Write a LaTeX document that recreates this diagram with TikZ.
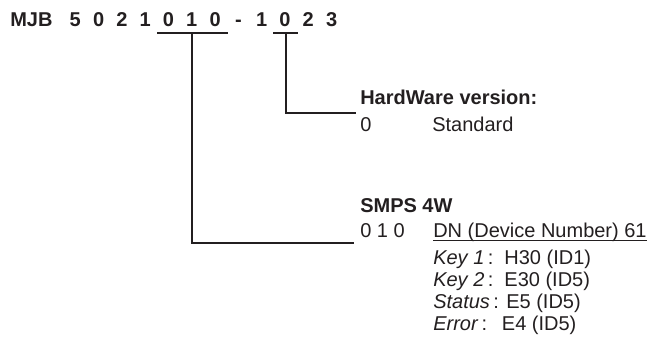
\documentclass[tikz,border=0pt]{standalone}
\usepackage{fontspec}
\setmainfont{Liberation Sans}
\definecolor{ink}{HTML}{231F20}
\begin{document}
\begin{tikzpicture}[x=0.75pt,y=-0.75pt,
  txt/.style={anchor=base west,inner sep=0pt,text=ink,font=\fontsize{15}{18}\selectfont},
  btxt/.style={txt,font=\fontsize{15}{18}\selectfont\bfseries},
  ch/.style={anchor=base,inner sep=0pt,text=ink,font=\fontsize{15}{18}\selectfont\bfseries},
  conn/.style={line width=1.5pt,draw=ink},
  uline/.style={line width=0.8pt,draw=ink}]
\useasboundingbox (0,0) rectangle (659,345);
% title
\node[btxt] (mjb) at (10,27) {MJB};
\foreach \c [count=\i from 0] in {5,0,2,1,0,1,0,-,1,0,2,3} {
  \node[ch] (d\i) at (75.3+23.3*\i,27) {\c};
}
% connector points
\coordinate (u1a) at (157,33);
\coordinate (u1b) at (228,33);
\coordinate (u1m) at (192,33);
\coordinate (c1)  at (192,243);
\coordinate (e1)  at (354,243);
\coordinate (u2a) at (273,33);
\coordinate (u2b) at (298,33);
\coordinate (u2m) at (286,33);
\coordinate (c2)  at (286,113);
\coordinate (e2)  at (356,113);
% hardware version block
\node[btxt] (hw) at (360,105) {HardWare version:};
\node[txt] (hw0) at (360,132) {0};
\node[txt] (std) at (432,132) {Standard};
% SMPS block
\node[btxt] (smps) at (360,212) {SMPS 4W};
\node[txt] (n010) at (360,237) {0 1 0};
\node[txt] (dn) at (433,237) {DN (Device Number) 61};
\draw[uline] ([yshift=-2.4pt]dn.base west) -- ([yshift=-2.4pt]dn.base east);
\node[txt] (k1) at (433,264) {\textit{Key 1}\,:\ \ H30 (ID1)};
\node[txt] (k2) at (433,286) {\textit{Key 2}\,:\ \ E30 (ID5)};
\node[txt] (st) at (433,308) {\textit{Status}\,: E5 (ID5)};
\node[txt] (er) at (433,330) {\textit{Error}\,:\hspace{11pt}E4 (ID5)};
% connectors
\draw[conn] (u1a) -- (u1b);
\draw[conn] (u1m) -- (c1) -- (e1);
\draw[conn] (u2a) -- (u2b);
\draw[conn] (u2m) -- (c2) -- (e2);
\end{tikzpicture}
\end{document}
